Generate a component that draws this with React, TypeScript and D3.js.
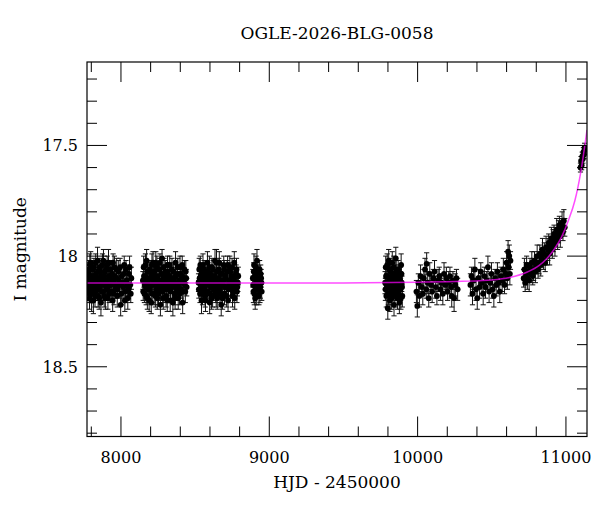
import React from "react";
import * as d3 from "d3";

// photometry, one array per observing season: [HJD-2450000, I mag, error]
const season1 = [
  [7776, 18.10, 0.04], [7780, 18.15, 0.05], [7784, 18.06, 0.04], [7788, 18.19, 0.05], [7792, 18.12, 0.04],
  [7796, 18.03, 0.05], [7800, 18.17, 0.04], [7805, 18.09, 0.05], [7810, 18.14, 0.04], [7814, 18.20, 0.06],
  [7818, 18.05, 0.04], [7823, 18.11, 0.05], [7828, 18.16, 0.04], [7832, 18.08, 0.04], [7837, 18.13, 0.05],
  [7842, 18.02, 0.06], [7846, 18.18, 0.05], [7851, 18.10, 0.04], [7856, 18.14, 0.04], [7860, 18.07, 0.05],
  [7865, 18.21, 0.06], [7870, 18.12, 0.04], [7875, 18.04, 0.05], [7880, 18.16, 0.04], [7885, 18.09, 0.04],
  [7890, 18.13, 0.05], [7895, 18.19, 0.05], [7900, 18.06, 0.04], [7905, 18.11, 0.04], [7910, 18.15, 0.05],
  [7916, 18.03, 0.06], [7921, 18.17, 0.04], [7926, 18.10, 0.05], [7932, 18.13, 0.04], [7938, 18.08, 0.04],
  [7944, 18.20, 0.05], [7950, 18.12, 0.04], [7956, 18.05, 0.05], [7962, 18.15, 0.04], [7968, 18.10, 0.04],
  [7975, 18.18, 0.05], [7982, 18.07, 0.05], [7990, 18.13, 0.04], [7998, 18.22, 0.05], [8006, 18.09, 0.04],
  [8014, 18.14, 0.05], [8022, 18.04, 0.04], [8030, 18.16, 0.05], [8038, 18.11, 0.04], [8046, 18.19, 0.05],
  [8054, 18.08, 0.04], [8062, 18.13, 0.04], [8070, 18.10, 0.05],
  [7778, 18.13, 0.04], [7782, 18.08, 0.05], [7786, 18.17, 0.04], [7790, 18.04, 0.05], [7794, 18.14, 0.04],
  [7798, 18.10, 0.04], [7802, 18.20, 0.05], [7807, 18.06, 0.04], [7812, 18.12, 0.05], [7816, 18.16, 0.04],
  [7820, 18.09, 0.04], [7825, 18.18, 0.05], [7830, 18.03, 0.04], [7834, 18.14, 0.05], [7839, 18.11, 0.04],
  [7844, 18.07, 0.04], [7848, 18.15, 0.05], [7853, 18.19, 0.05], [7858, 18.05, 0.04], [7862, 18.13, 0.04],
  [7867, 18.09, 0.05], [7872, 18.16, 0.04], [7877, 18.11, 0.04], [7882, 18.02, 0.05], [7887, 18.18, 0.05],
  [7892, 18.07, 0.04], [7897, 18.12, 0.04], [7902, 18.15, 0.05], [7907, 18.04, 0.04], [7912, 18.19, 0.05],
  [7918, 18.09, 0.04], [7923, 18.13, 0.05], [7928, 18.06, 0.04], [7935, 18.16, 0.04], [7941, 18.11, 0.05],
  [7947, 18.03, 0.04], [7953, 18.17, 0.05], [7959, 18.09, 0.04], [7965, 18.13, 0.04], [7971, 18.06, 0.05],
  [7978, 18.15, 0.04], [7986, 18.11, 0.05], [7994, 18.05, 0.04], [8002, 18.17, 0.05], [8010, 18.12, 0.04],
  [8018, 18.08, 0.04], [8026, 18.20, 0.05], [8034, 18.06, 0.04], [8042, 18.13, 0.05], [8050, 18.15, 0.04],
  [8058, 18.05, 0.05], [8066, 18.17, 0.04],
];
const season2 = [
  [8148, 18.11, 0.04], [8153, 18.05, 0.05], [8158, 18.17, 0.04], [8163, 18.09, 0.04], [8168, 18.14, 0.05],
  [8173, 18.02, 0.05], [8178, 18.19, 0.05], [8183, 18.12, 0.04], [8188, 18.07, 0.04], [8193, 18.15, 0.05],
  [8198, 18.10, 0.04], [8204, 18.21, 0.05], [8209, 18.04, 0.05], [8214, 18.13, 0.04], [8219, 18.08, 0.04],
  [8224, 18.17, 0.05], [8229, 18.11, 0.04], [8235, 18.03, 0.05], [8240, 18.15, 0.04], [8245, 18.19, 0.05],
  [8250, 18.09, 0.04], [8256, 18.13, 0.04], [8261, 18.06, 0.05], [8266, 18.22, 0.05], [8272, 18.12, 0.04],
  [8277, 18.01, 0.04], [8282, 18.16, 0.05], [8288, 18.10, 0.04], [8293, 18.14, 0.04], [8298, 18.07, 0.05],
  [8304, 18.18, 0.05], [8309, 18.11, 0.04], [8314, 18.04, 0.04], [8320, 18.15, 0.05], [8326, 18.09, 0.04],
  [8332, 18.20, 0.05], [8338, 18.12, 0.04], [8344, 18.06, 0.05], [8350, 18.21, 0.06], [8356, 18.10, 0.04],
  [8362, 18.17, 0.05], [8368, 18.03, 0.05], [8374, 18.13, 0.04], [8380, 18.08, 0.04], [8386, 18.19, 0.05],
  [8392, 18.11, 0.04], [8398, 18.05, 0.05], [8404, 18.15, 0.04], [8410, 18.09, 0.05], [8416, 18.21, 0.05],
  [8422, 18.12, 0.04], [8428, 18.06, 0.04], [8434, 18.16, 0.05], [8440, 18.10, 0.04],
  [8150, 18.16, 0.04], [8155, 18.09, 0.05], [8160, 18.13, 0.04], [8165, 18.04, 0.05], [8170, 18.18, 0.04],
  [8175, 18.11, 0.04], [8180, 18.07, 0.05], [8185, 18.15, 0.04], [8190, 18.20, 0.05], [8195, 18.06, 0.04],
  [8201, 18.13, 0.04], [8206, 18.09, 0.05], [8211, 18.17, 0.04], [8216, 18.03, 0.05], [8221, 18.12, 0.04],
  [8226, 18.07, 0.04], [8232, 18.18, 0.05], [8237, 18.10, 0.04], [8242, 18.05, 0.05], [8247, 18.14, 0.04],
  [8253, 18.17, 0.05], [8258, 18.11, 0.04], [8263, 18.03, 0.04], [8269, 18.15, 0.05], [8274, 18.08, 0.04],
  [8280, 18.13, 0.05], [8285, 18.19, 0.05], [8290, 18.05, 0.04], [8296, 18.12, 0.04], [8301, 18.09, 0.05],
  [8306, 18.15, 0.04], [8312, 18.20, 0.05], [8317, 18.07, 0.04], [8323, 18.13, 0.05], [8329, 18.04, 0.04],
  [8335, 18.16, 0.05], [8341, 18.10, 0.04], [8347, 18.14, 0.05], [8353, 18.07, 0.04], [8359, 18.12, 0.04],
  [8365, 18.19, 0.05], [8371, 18.09, 0.04], [8377, 18.15, 0.05], [8383, 18.05, 0.04], [8389, 18.14, 0.04],
  [8395, 18.17, 0.05], [8401, 18.08, 0.04], [8407, 18.12, 0.05], [8413, 18.04, 0.04], [8419, 18.16, 0.05],
  [8425, 18.10, 0.04], [8431, 18.13, 0.04], [8437, 18.07, 0.05], [8443, 18.14, 0.04],
];
const season3 = [
  [8523, 18.12, 0.04], [8528, 18.06, 0.05], [8533, 18.17, 0.04], [8538, 18.09, 0.04], [8543, 18.20, 0.06],
  [8548, 18.13, 0.04], [8553, 18.04, 0.05], [8558, 18.15, 0.04], [8563, 18.10, 0.04], [8568, 18.18, 0.05],
  [8573, 18.07, 0.04], [8578, 18.12, 0.05], [8583, 18.03, 0.05], [8588, 18.16, 0.04], [8593, 18.11, 0.04],
  [8598, 18.21, 0.05], [8603, 18.08, 0.04], [8608, 18.14, 0.05], [8613, 18.05, 0.04], [8618, 18.18, 0.05],
  [8623, 18.10, 0.04], [8628, 18.13, 0.04], [8634, 18.02, 0.05], [8639, 18.16, 0.05], [8644, 18.03, 0.06],
  [8649, 18.19, 0.05], [8655, 18.12, 0.04], [8660, 18.06, 0.05], [8665, 18.15, 0.04], [8671, 18.11, 0.04],
  [8676, 18.22, 0.05], [8682, 18.08, 0.04], [8687, 18.13, 0.05], [8693, 18.04, 0.04], [8698, 18.17, 0.05],
  [8704, 18.10, 0.04], [8710, 18.14, 0.04], [8716, 18.07, 0.05], [8722, 18.20, 0.05], [8728, 18.12, 0.04],
  [8734, 18.05, 0.05], [8740, 18.15, 0.04], [8746, 18.09, 0.04], [8752, 18.18, 0.05], [8758, 18.11, 0.04],
  [8764, 18.03, 0.05], [8770, 18.14, 0.04], [8776, 18.08, 0.04], [8782, 18.16, 0.05], [8788, 18.12, 0.04],
  [8525, 18.15, 0.04], [8530, 18.10, 0.05], [8535, 18.04, 0.04], [8540, 18.13, 0.05], [8545, 18.08, 0.04],
  [8550, 18.17, 0.05], [8555, 18.11, 0.04], [8560, 18.06, 0.04], [8565, 18.14, 0.05], [8570, 18.20, 0.05],
  [8575, 18.09, 0.04], [8580, 18.16, 0.05], [8586, 18.07, 0.04], [8591, 18.13, 0.04], [8596, 18.05, 0.05],
  [8601, 18.17, 0.04], [8606, 18.10, 0.05], [8611, 18.19, 0.05], [8616, 18.12, 0.04], [8621, 18.06, 0.04],
  [8626, 18.15, 0.05], [8631, 18.09, 0.04], [8637, 18.12, 0.04], [8642, 18.18, 0.05], [8647, 18.07, 0.04],
  [8652, 18.14, 0.05], [8658, 18.10, 0.04], [8663, 18.03, 0.05], [8668, 18.17, 0.04], [8674, 18.08, 0.04],
  [8679, 18.13, 0.05], [8685, 18.19, 0.05], [8690, 18.11, 0.04], [8696, 18.06, 0.04], [8701, 18.14, 0.05],
  [8707, 18.09, 0.04], [8713, 18.18, 0.05], [8719, 18.04, 0.04], [8725, 18.15, 0.05], [8731, 18.11, 0.04],
  [8737, 18.07, 0.04], [8743, 18.13, 0.05], [8749, 18.05, 0.04], [8755, 18.16, 0.05], [8761, 18.10, 0.04],
  [8767, 18.19, 0.05], [8773, 18.12, 0.04], [8779, 18.06, 0.05], [8785, 18.14, 0.04], [8791, 18.09, 0.04],
];
const season4 = [
  [8889, 18.10, 0.04], [8893, 18.16, 0.05], [8897, 18.04, 0.05], [8901, 18.13, 0.04], [8905, 18.19, 0.05],
  [8909, 18.08, 0.04], [8913, 18.12, 0.04], [8917, 18.02, 0.05], [8921, 18.15, 0.04], [8925, 18.11, 0.05],
  [8930, 18.18, 0.04], [8935, 18.06, 0.04], [8940, 18.14, 0.05], [8945, 18.10, 0.04], [8949, 18.16, 0.04],
  [8891, 18.13, 0.04], [8895, 18.07, 0.04], [8899, 18.17, 0.05], [8903, 18.09, 0.04], [8907, 18.14, 0.04],
  [8911, 18.05, 0.05], [8915, 18.18, 0.04], [8919, 18.11, 0.04], [8923, 18.07, 0.05], [8927, 18.14, 0.04],
  [8932, 18.10, 0.04], [8937, 18.16, 0.05], [8942, 18.08, 0.04], [8947, 18.12, 0.04],
];
const season5 = [
  [9781, 18.12, 0.05], [9785, 18.05, 0.05], [9789, 18.18, 0.05], [9793, 18.09, 0.04], [9799, 18.235, 0.05],
  [9801, 18.14, 0.04], [9805, 18.02, 0.05], [9809, 18.11, 0.04], [9813, 18.20, 0.05], [9817, 18.07, 0.04],
  [9821, 18.15, 0.05], [9825, 18.10, 0.04], [9829, 18.03, 0.05], [9833, 18.17, 0.05], [9837, 18.12, 0.04],
  [9841, 18.22, 0.05], [9845, 18.08, 0.04], [9849, 18.14, 0.05], [9853, 18.01, 0.05], [9857, 18.16, 0.04],
  [9861, 18.10, 0.05], [9865, 18.19, 0.05], [9869, 18.06, 0.04], [9873, 18.13, 0.04], [9877, 18.21, 0.05],
  [9881, 18.09, 0.04], [9885, 18.15, 0.05], [9889, 18.04, 0.05], [9893, 18.12, 0.04], [9897, 18.18, 0.05],
  [9783, 18.15, 0.05], [9787, 18.09, 0.04], [9791, 18.13, 0.05], [9795, 18.04, 0.05], [9803, 18.17, 0.05],
  [9807, 18.12, 0.04], [9811, 18.06, 0.05], [9815, 18.14, 0.04], [9819, 18.10, 0.05], [9823, 18.19, 0.05],
  [9827, 18.13, 0.04], [9831, 18.08, 0.05], [9835, 18.15, 0.04], [9839, 18.05, 0.05], [9843, 18.12, 0.04],
  [9847, 18.18, 0.05], [9851, 18.10, 0.04], [9855, 18.07, 0.05], [9859, 18.13, 0.04], [9863, 18.15, 0.05],
  [9867, 18.11, 0.04], [9871, 18.17, 0.05], [9875, 18.08, 0.04], [9879, 18.14, 0.05], [9883, 18.11, 0.04],
  [9887, 18.19, 0.05], [9891, 18.08, 0.04], [9895, 18.14, 0.05],
];
const season6 = [
  [9992, 18.16, 0.05], [9998, 18.225, 0.05], [10005, 18.12, 0.04], [10012, 18.18, 0.05], [10020, 18.09, 0.05],
  [10028, 18.14, 0.04], [10035, 18.17, 0.05], [10042, 18.10, 0.04], [10050, 18.06, 0.05], [10058, 18.15, 0.04],
  [10061, 18.035, 0.05], [10068, 18.12, 0.05], [10075, 18.19, 0.04], [10082, 18.08, 0.05], [10090, 18.13, 0.04],
  [10098, 18.16, 0.05], [10106, 18.10, 0.04], [10114, 18.07, 0.05], [10122, 18.14, 0.05], [10130, 18.18, 0.04],
  [10138, 18.11, 0.05], [10146, 18.09, 0.04], [10154, 18.15, 0.05], [10162, 18.12, 0.04], [10170, 18.17, 0.05],
  [10178, 18.08, 0.05], [10186, 18.13, 0.04], [10194, 18.10, 0.05], [10202, 18.16, 0.04], [10210, 18.12, 0.05],
  [10218, 18.09, 0.04], [10226, 18.14, 0.05], [10230, 18.18, 0.05], [10238, 18.11, 0.04], [10246, 18.19, 0.06],
  [10254, 18.13, 0.05], [10262, 18.10, 0.04], [10270, 18.15, 0.05],
];
const season7 = [
  [10356, 18.13, 0.05], [10363, 18.09, 0.04], [10370, 18.17, 0.05], [10378, 18.11, 0.04], [10386, 18.06, 0.05],
  [10394, 18.15, 0.05], [10402, 18.19, 0.05], [10410, 18.10, 0.04], [10418, 18.14, 0.05], [10426, 18.07, 0.04],
  [10434, 18.12, 0.05], [10442, 18.17, 0.05], [10450, 18.09, 0.04], [10458, 18.14, 0.05], [10466, 18.11, 0.04],
  [10474, 18.05, 0.05], [10482, 18.16, 0.05], [10490, 18.12, 0.04], [10498, 18.08, 0.05], [10506, 18.15, 0.04],
  [10514, 18.18, 0.05], [10522, 18.10, 0.04], [10530, 18.13, 0.05], [10538, 18.07, 0.04], [10546, 18.12, 0.05],
  [10554, 18.16, 0.05], [10562, 18.09, 0.04], [10570, 18.11, 0.05], [10578, 18.06, 0.05], [10586, 18.13, 0.04],
  [10594, 18.08, 0.05], [10600, 18.03, 0.05], [10605, 18.10, 0.05], [10610, 17.98, 0.05], [10614, 18.05, 0.04],
  [10618, 18.00, 0.05], [10622, 18.08, 0.05], [10626, 18.02, 0.04],
];
const season8 = [
  [10715, 18.10, 0.04], [10720, 18.06, 0.05], [10725, 18.12, 0.04], [10730, 18.08, 0.05], [10735, 18.04, 0.04],
  [10740, 18.10, 0.05], [10746, 18.07, 0.04], [10752, 18.11, 0.05], [10758, 18.05, 0.04], [10764, 18.08, 0.04],
  [10770, 18.03, 0.05], [10776, 18.09, 0.04], [10782, 18.06, 0.05], [10788, 18.02, 0.04], [10794, 18.07, 0.05],
  [10800, 18.04, 0.04], [10806, 18.00, 0.05], [10812, 18.06, 0.04], [10818, 18.03, 0.05], [10824, 17.99, 0.04],
  [10830, 18.04, 0.05], [10836, 18.01, 0.04], [10842, 17.97, 0.05], [10848, 18.02, 0.04], [10854, 17.99, 0.05],
  [10860, 18.03, 0.04], [10866, 17.96, 0.05], [10872, 18.00, 0.04], [10878, 17.97, 0.05], [10884, 17.94, 0.04],
  [10890, 17.99, 0.05], [10896, 17.95, 0.04], [10902, 17.92, 0.05], [10908, 17.97, 0.04], [10914, 17.93, 0.05],
  [10920, 17.90, 0.04], [10926, 17.95, 0.05], [10932, 17.91, 0.04], [10938, 17.88, 0.05], [10944, 17.93, 0.04],
  [10950, 17.89, 0.05], [10956, 17.86, 0.04], [10962, 17.91, 0.05], [10968, 17.87, 0.04], [10974, 17.85, 0.05],
  [10980, 17.89, 0.04], [10986, 17.84, 0.05], [10992, 17.87, 0.04],
];
const season9 = [
  [11098, 17.60, 0.02], [11102, 17.57, 0.02], [11106, 17.59, 0.02], [11110, 17.55, 0.02], [11114, 17.56, 0.02],
  [11118, 17.53, 0.02], [11122, 17.54, 0.02], [11126, 17.51, 0.02], [11130, 17.52, 0.02],
];

// microlensing model curve
const modelT = [7771, 8500, 9000, 9500, 10000, 10300, 10500, 10620, 10740, 10820, 10870, 10920, 10970, 11016, 11060, 11100, 11142];
const modelMag = [18.122, 18.122, 18.122, 18.121, 18.118, 18.114, 18.108, 18.097, 18.072, 18.042, 18.012, 17.97, 17.914, 17.84, 17.75, 17.62, 17.43];

// axes
const xMajor = [8000, 9000, 10000, 11000];
const xMinor = [7800, 8200, 8400, 8600, 8800, 9200, 9400, 9600, 9800, 10200, 10400, 10600, 10800, 11200];
const yMajor = [17.5, 18, 18.5];
const yMinor = [17.2, 17.3, 17.4, 17.6, 17.7, 17.8, 17.9, 18.1, 18.2, 18.3, 18.4, 18.6, 18.7, 18.8];
const yLabels = ["17.5", "18", "18.5"];

const W = 600;
const H = 512;
const left = 87;
const right = 587;
const top = 62;
const bottom = 436.5;

const App = () => {
  const x = d3.scaleLinear().domain([7771, 11142]).range([left, right]);
  const y = d3.scaleLinear().domain([17.123, 18.815]).range([top, bottom]);

  const points = [season1, season2, season3, season4, season5, season6, season7, season8, season9].flat();

  const modelLine = d3
    .line<number>()
    .x((d, i) => x(modelT[i]))
    .y((d) => y(d))
    .curve(d3.curveMonotoneX);

  const font = "'DejaVu Serif', serif";
  const cap = 2.6;

  return (
    <svg width={W} height={H} style={{ position: "absolute", left: 0, top: 0, background: "#fff" }}>
      <defs>
        <clipPath id="plot">
          <rect x={left} y={top} width={right - left} height={bottom - top} />
        </clipPath>
      </defs>

      <text x={(left + right) / 2} y={38.5} textAnchor="middle" fontFamily={font} fontSize={17}>
        OGLE-2026-BLG-0058
      </text>

      <g clipPath="url(#plot)">
        {/* error bars */}
        <g stroke="#111" strokeWidth={1}>
          {points.map((p, i) => {
            const px = x(p[0]);
            const y0 = y(p[1] - p[2]);
            const y1 = y(p[1] + p[2]);
            return (
              <g key={i}>
                <line x1={px} x2={px} y1={y0} y2={y1} />
                <line x1={px - cap} x2={px + cap} y1={y0} y2={y0} />
                <line x1={px - cap} x2={px + cap} y1={y1} y2={y1} />
              </g>
            );
          })}
        </g>
        {/* points */}
        <g fill="#000">
          {points.map((p, i) => (
            <circle key={i} cx={x(p[0])} cy={y(p[1])} r={2.9} />
          ))}
        </g>
        {/* model */}
        <path d={modelLine(modelMag) || ""} fill="none" stroke="#ff00ff" strokeWidth={1.5} strokeOpacity={0.7} />
      </g>

      {/* ticks on all four sides, pointing inward */}
      <g stroke="#000" strokeWidth={1}>
        {xMajor.map((t) => (
          <g key={"xM" + t}>
            <line x1={x(t)} x2={x(t)} y1={bottom} y2={bottom - 20} />
            <line x1={x(t)} x2={x(t)} y1={top} y2={top + 20} />
          </g>
        ))}
        {xMinor.filter((t) => x(t) > left && x(t) < right).map((t) => (
          <g key={"xm" + t}>
            <line x1={x(t)} x2={x(t)} y1={bottom} y2={bottom - 10} />
            <line x1={x(t)} x2={x(t)} y1={top} y2={top + 10} />
          </g>
        ))}
        {yMajor.map((t) => (
          <g key={"yM" + t}>
            <line x1={left} x2={left + 20} y1={y(t)} y2={y(t)} />
            <line x1={right} x2={right - 20} y1={y(t)} y2={y(t)} />
          </g>
        ))}
        {yMinor.filter((t) => y(t) > top && y(t) < bottom).map((t) => (
          <g key={"ym" + t}>
            <line x1={left} x2={left + 10} y1={y(t)} y2={y(t)} />
            <line x1={right} x2={right - 10} y1={y(t)} y2={y(t)} />
          </g>
        ))}
      </g>

      <rect x={left} y={top} width={right - left} height={bottom - top} fill="none" stroke="#000" strokeWidth={1.2} />

      {/* tick labels */}
      <g fontFamily={font} fontSize={16}>
        {xMajor.map((t) => (
          <text key={t} x={x(t)} y={463} textAnchor="middle">
            {t}
          </text>
        ))}
        {yMajor.map((t, i) => (
          <text key={t} x={78} y={y(t)} dy="0.36em" textAnchor="end">
            {yLabels[i]}
          </text>
        ))}
      </g>

      <text x={(left + right) / 2} y={488} textAnchor="middle" fontFamily={font} fontSize={17}>
        HJD - 2450000
      </text>
      <text
        transform={`translate(26, ${(top + bottom) / 2}) rotate(-90)`}
        textAnchor="middle"
        fontFamily={font}
        fontSize={17}
      >
        I magnitude
      </text>
    </svg>
  );
};

export default App;
